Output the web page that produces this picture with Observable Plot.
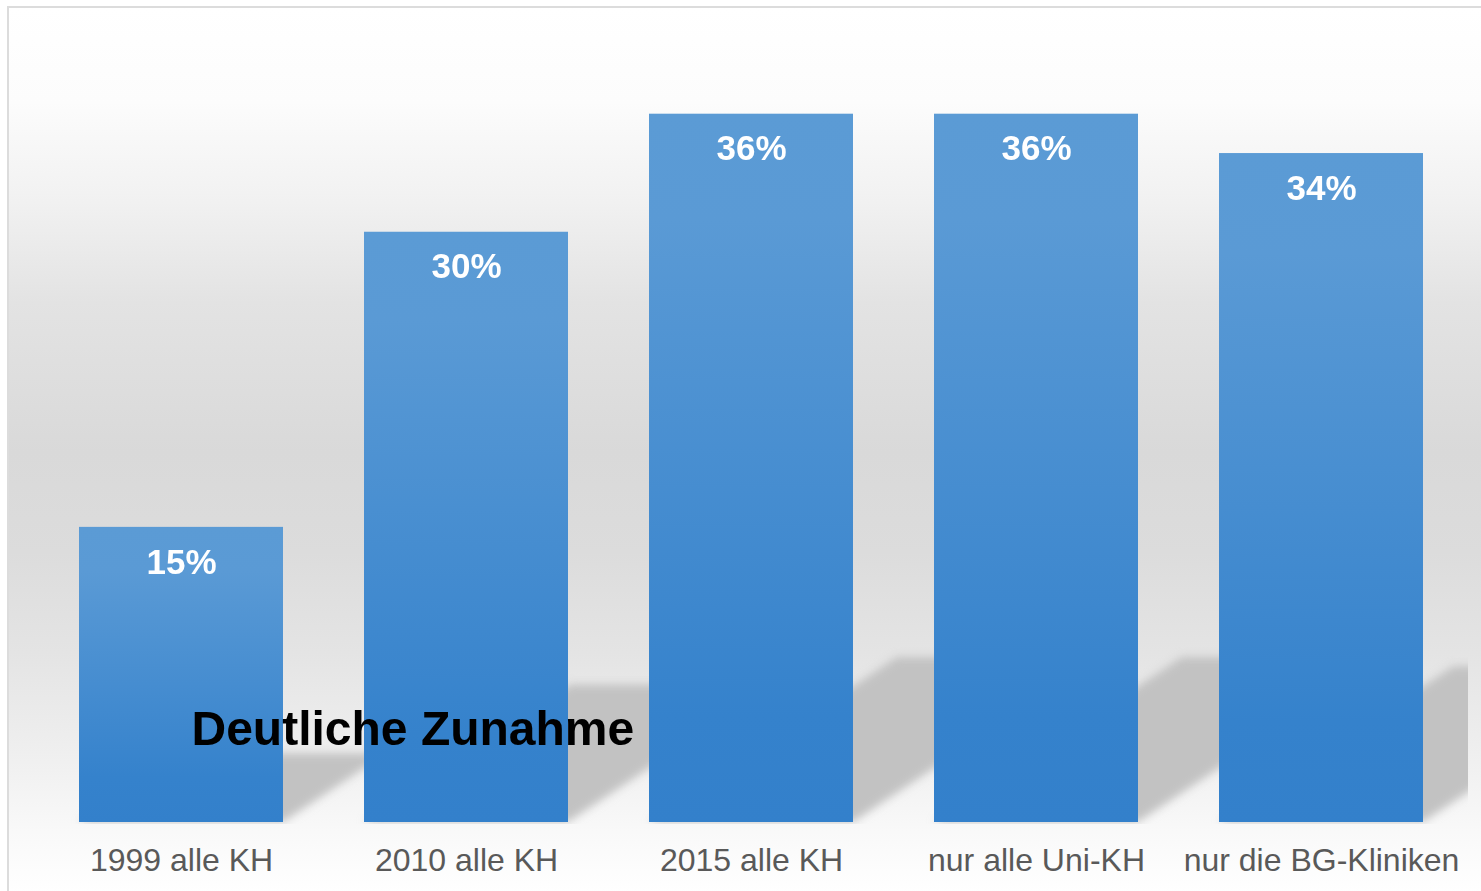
<!DOCTYPE html>
<html>
<head>
<meta charset="utf-8">
<script src="https://cdn.jsdelivr.net/npm/d3@7"></script>
<script src="https://cdn.jsdelivr.net/npm/@observablehq/plot@0.6"></script>
<style>
  html, body { margin: 0; padding: 0; overflow: hidden; background: #ffffff; width: 1481px; height: 891px; }
  #frame {
    position: absolute; left: 7px; top: 6px; width: 1490px; height: 885px;
    border: 2px solid #dcdcdc;
    background: linear-gradient(to bottom,
      #ffffff 0%, #fcfcfc 10.6%, #f1f1f1 21.9%, #e3e3e3 33.2%, #d9d9d9 50.2%,
      #dcdcdc 61.5%, #e4e4e4 72.8%, #f0f0f0 85.2%, #f9f9f9 93.1%, #ffffff 100%);
  }
  #chart { position: absolute; left: 0; top: 0; }
</style>
</head>
<body>
<div id="frame"></div>
<svg width="0" height="0" style="position:absolute">
  <defs>
    <linearGradient id="barGrad" x1="0" y1="0" x2="0" y2="1">
      <stop offset="0" stop-color="#5b9bd5"/>
      <stop offset="0.15" stop-color="#5a9ad5"/>
      <stop offset="0.85" stop-color="#3582cc"/>
      <stop offset="1" stop-color="#3380cb"/>
    </linearGradient>
    <filter id="shadowBlur" x="-30%" y="-30%" width="160%" height="160%">
      <feGaussianBlur stdDeviation="4"/>
    </filter>
  </defs>
</svg>
<div id="chart"></div>
<script>
const categories = ["1999 alle KH", "2010 alle KH", "2015 alle KH", "nur alle Uni-KH", "nur die BG-Kliniken"];
const values = [15, 30, 36, 36, 34];
const valueLabels = ["15%", "30%", "36%", "36%", "34%"];
const annotationText = "Deutliche Zunahme";

const data = categories.map((c, i) => ({category: c, value: values[i], label: valueLabels[i]}));

const chart = Plot.plot({
  width: 1481,
  height: 891,
  marginLeft: 34,
  marginRight: 14,
  marginTop: 35,
  marginBottom: 69,
  style: {
    background: "transparent",
    fontFamily: "'Liberation Sans', Arial, sans-serif",
    fontSize: "32px",
    color: "#595959",
    overflow: "visible"
  },
  x: {domain: categories, paddingInner: 0.2855, paddingOuter: 0.15, tickSize: 0, tickPadding: 26, label: null},
  y: {domain: [0, 40], axis: null},
  marks: [
    Plot.barY(data, {x: "category", y: "value", fill: "#c2c2c2"}),
    Plot.barY(data, {x: "category", y: "value", fill: "url(#barGrad)"}),
    Plot.text(data, {x: "category", y: "value", text: "label", dy: 35, fill: "white", fontSize: 35, fontWeight: "bold"}),
    Plot.text([{category: categories[0], value: 4.7, text: annotationText}],
      {x: "category", y: "value", text: "text", textAnchor: "start", dx: 10, fill: "black", fontSize: 48, fontWeight: "bold"})
  ]
});

document.getElementById("chart").appendChild(chart);

// perspective shadow derived from the bar geometry (first bar mark)
const y0 = chart.scale("y").apply(0);
const xr = chart.scale("x").range;
const k = 0.35, s = 0.233;
const ns = "http://www.w3.org/2000/svg";
const defs = document.createElementNS(ns, "defs");
const cp = document.createElementNS(ns, "clipPath");
cp.setAttribute("id", "shadowClip");
const cr = document.createElementNS(ns, "rect");
cr.setAttribute("x", 0);
cr.setAttribute("y", 0);
cr.setAttribute("width", Math.max(...xr) + 1);
cr.setAttribute("height", y0 + 2);
cp.appendChild(cr);
defs.appendChild(cp);
chart.insertBefore(defs, chart.firstChild);
const barGroups = chart.querySelectorAll('g[aria-label="bar"]');
const sg = barGroups[0];
if (sg) {
  sg.querySelectorAll("rect").forEach(r => {
    r.setAttribute("transform", `matrix(1 0 ${-k} ${s} ${k * y0} ${(1 - s) * y0})`);
  });
  sg.setAttribute("filter", "url(#shadowBlur)");
  sg.setAttribute("clip-path", "url(#shadowClip)");
}
</script>
</body>
</html>
